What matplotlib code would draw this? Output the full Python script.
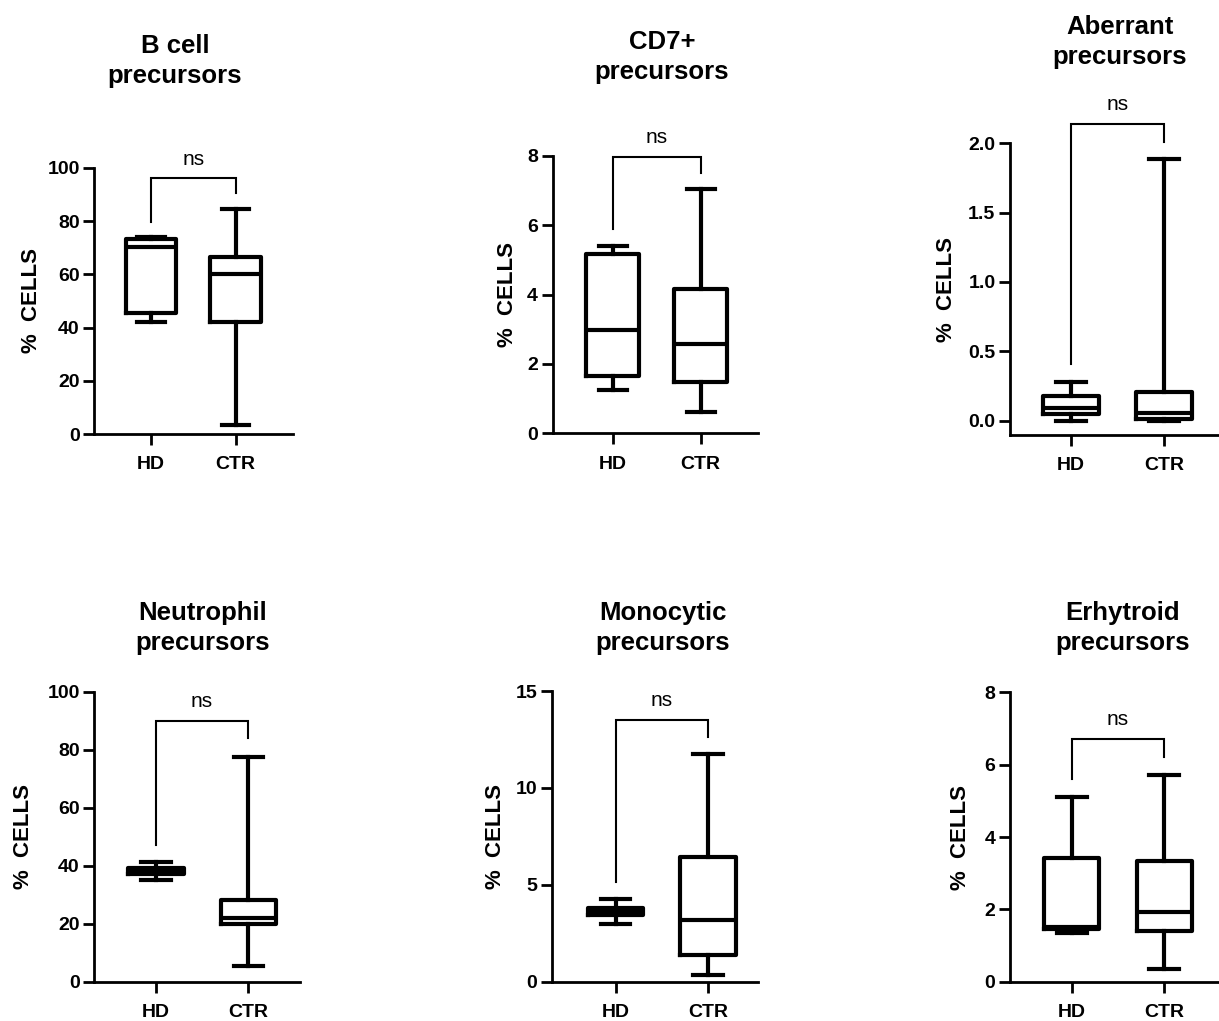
import matplotlib
matplotlib.use("Agg")
import matplotlib.pyplot as plt
from matplotlib.ticker import FormatStrFormatter

plt.rcParams["font.family"] = ["Liberation Sans", "DejaVu Sans"]

groups = ["HD", "CTR"]
titles = ["B cell\nprecursors", "CD7+\nprecursors", "Aberrant\nprecursors",
          "Neutrophil\nprecursors", "Monocytic\nprecursors", "Erhytroid\nprecursors"]

# box statistics per panel, [HD, CTR]
whis_lo = [[41.9, 3.5], [1.25, 0.62], [0.0, 0.0], [35.1, 5.5], [2.98, 0.35], [1.36, 0.34]]
q1 = [[45.3, 42.2], [1.66, 1.47], [0.048, 0.01], [37.2, 19.8], [3.44, 1.38], [1.45, 1.41]]
med = [[70.3, 60.1], [2.98, 2.56], [0.089, 0.053], [38.3, 22.0], [3.6, 3.18], [1.5, 1.92]]
q3 = [[73.3, 66.5], [5.16, 4.15], [0.178, 0.209], [39.2, 28.2], [3.79, 6.45], [3.43, 3.35]]
whis_hi = [[73.9, 84.5], [5.4, 7.03], [0.28, 1.89], [41.2, 77.5], [4.28, 11.75], [5.1, 5.72]]

# significance brackets
sig_label = "ns"
bracket_top = [96, 7.97, 2.14, 89.9, 13.5, 6.7]
bracket_hd = [79.7, 5.89, 0.41, 47.1, 5.16, 5.6]
bracket_ctr = [90.4, 7.51, 2.01, 83.9, 12.64, 6.22]

y_ticks = [[0, 20, 40, 60, 80, 100], [0, 2, 4, 6, 8], [0.0, 0.5, 1.0, 1.5, 2.0],
           [0, 20, 40, 60, 80, 100], [0, 5, 10, 15], [0, 2, 4, 6, 8]]
y_fmt = ["%d", "%d", "%.1f", "%d", "%d", "%d"]

# layout (figure fractions) and limits
rects = [
    [0.0774, 0.5749, 0.1630, 0.2608],
    [0.4534, 0.5756, 0.1684, 0.2719],
    [0.8286, 0.5740, 0.1714, 0.2857],
    [0.0774, 0.0385, 0.1687, 0.2840],
    [0.4526, 0.0385, 0.1692, 0.2847],
    [0.8286, 0.0385, 0.1714, 0.2834],
]
xlims = [(0.331, 2.677), (0.318, 2.651), (0.346, 2.586),
         (0.337, 2.558), (0.309, 2.537), (0.334, 2.591)]
ylims = [(0, 100), (0, 8), (-0.103, 2.0), (0, 100), (0, 15), (0, 8)]
label_pads = [4, 6.5, 8, 10, 7, 10]
title_pos = [(175, 61), (662, 57), (1120, 42), (203, 628), (663, 628), (1123, 628)]

W, H = 1219, 1021
fig = plt.figure(figsize=(W / 100, H / 100), dpi=100)

box_lw = 3.0
for i in range(6):
    ax = fig.add_axes(rects[i])
    stats = []
    for j in range(2):
        stats.append(dict(whislo=whis_lo[i][j], q1=q1[i][j], med=med[i][j],
                          q3=q3[i][j], whishi=whis_hi[i][j], fliers=[]))
    line = dict(color="black", linewidth=box_lw)
    ax.bxp(stats, positions=[1, 2], widths=0.6, capwidths=0.32, showfliers=False,
           boxprops=line, whiskerprops=line, capprops=line,
           medianprops=dict(color="black", linewidth=box_lw))

    # bracket
    ax.plot([1, 1, 2, 2], [bracket_hd[i], bracket_top[i], bracket_top[i], bracket_ctr[i]],
            color="black", linewidth=1.5, clip_on=False, solid_joinstyle="miter")
    ax.annotate(sig_label, (1.5, bracket_top[i]), xytext=(0, 10), textcoords="offset points",
                ha="center", va="baseline", fontsize=15, annotation_clip=False)

    ax.set_xlim(*xlims[i])
    ax.set_ylim(*ylims[i])
    ax.set_xticks([1, 2])
    ax.set_xticklabels(groups)
    ax.set_yticks(y_ticks[i])
    ax.yaxis.set_major_formatter(FormatStrFormatter(y_fmt[i]))
    for lab in ax.get_xticklabels() + ax.get_yticklabels():
        lab.set_fontweight("bold")
        lab.set_fontsize(14)
    ax.tick_params(axis="y", length=8, width=2, pad=2.5)
    ax.tick_params(axis="x", length=8, width=2, pad=8)
    for s in ["top", "right"]:
        ax.spines[s].set_visible(False)
    for s in ["left", "bottom"]:
        ax.spines[s].set_linewidth(2)
    ax.set_ylabel("%  CELLS", fontsize=16, fontweight="bold", labelpad=label_pads[i])

    tx, ty = title_pos[i]
    fig.text(tx / W, 1 - ty / H, titles[i], ha="center", va="center",
             multialignment="center", fontsize=18.5, fontweight="bold", linespacing=1.3)

fig.savefig("out.png", dpi=100)
